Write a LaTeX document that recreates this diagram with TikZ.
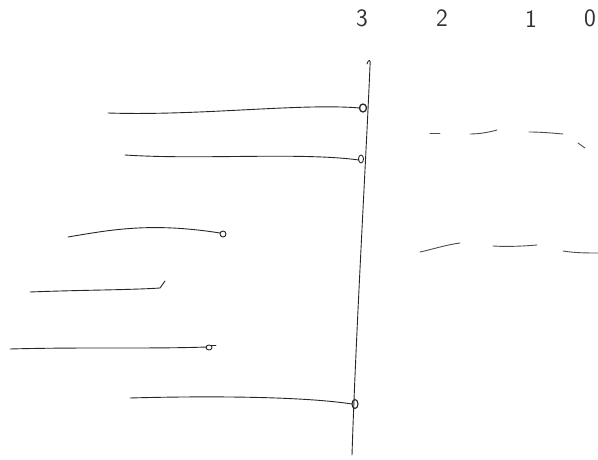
\documentclass[tikz,border=0pt]{standalone}
\usepackage{fontspec}
\begin{document}
\begin{tikzpicture}[x=1pt,y=-1pt,
  ink/.style={line width=0.9pt,draw=black!85,line cap=round,line join=round},
  faint/.style={line width=0.9pt,draw=black!70,line cap=round},
  lbl/.style={font=\sffamily\fontsize{25}{25}\selectfont,text=black!80,inner sep=0pt}]
\useasboundingbox (0,0) rectangle (598,460);
% labels
\node[lbl] (l3) at (362,18) {3};
\node[lbl] (l2) at (442,18) {2};
\node[lbl] (l1) at (531,19) {1};
\node[lbl] (l0) at (590,18) {0};
% vertical line
\draw[ink] (367,64) .. controls (369,58) and (371,60) .. (370,66)
  .. controls (366,160) and (356,330) .. (352,455);
% circles on vertical line
\draw[ink,line width=1.3pt] (363,108) ellipse (3.5 and 4);
\draw[ink] (361,159) ellipse (2.5 and 4);
\draw[ink,line width=1.1pt] (355,404) ellipse (3 and 4.5);
% horizontal strokes
\draw[ink] (108,113) .. controls (200,116) and (300,103) .. (360,108);
\draw[ink] (125,155) .. controls (200,160) and (300,152) .. (359,160);
\draw[ink] (68,237) .. controls (110,230) and (150,222) .. (220,233);
\draw[ink] (223,234) circle (3);
\draw[ink] (30,292) .. controls (80,290) and (130,290) .. (160,288) -- (165,281);
\draw[ink] (10,349) .. controls (80,347) and (150,349) .. (207,347);
\draw[ink] (209,347.5) ellipse (3 and 2.5);
\draw[ink] (211,345) -- (216,345);
\draw[ink] (130,398) .. controls (200,396) and (300,396) .. (352,404);
% dashed strokes (right)
\draw[faint] (430,133) -- (440,133);
\draw[faint] (470,134) .. controls (480,134) and (490,132) .. (497,130);
\draw[faint] (529,132) .. controls (540,132) and (552,133) .. (563,134);
\draw[faint] (578,143) -- (585,148);
\draw[faint] (420,252) .. controls (430,250) and (445,245) .. (460,243);
\draw[faint] (493,246) .. controls (508,247) and (525,246) .. (537,245);
\draw[faint] (563,251) .. controls (575,253) and (588,253) .. (598,253);
\end{tikzpicture}
\end{document}
